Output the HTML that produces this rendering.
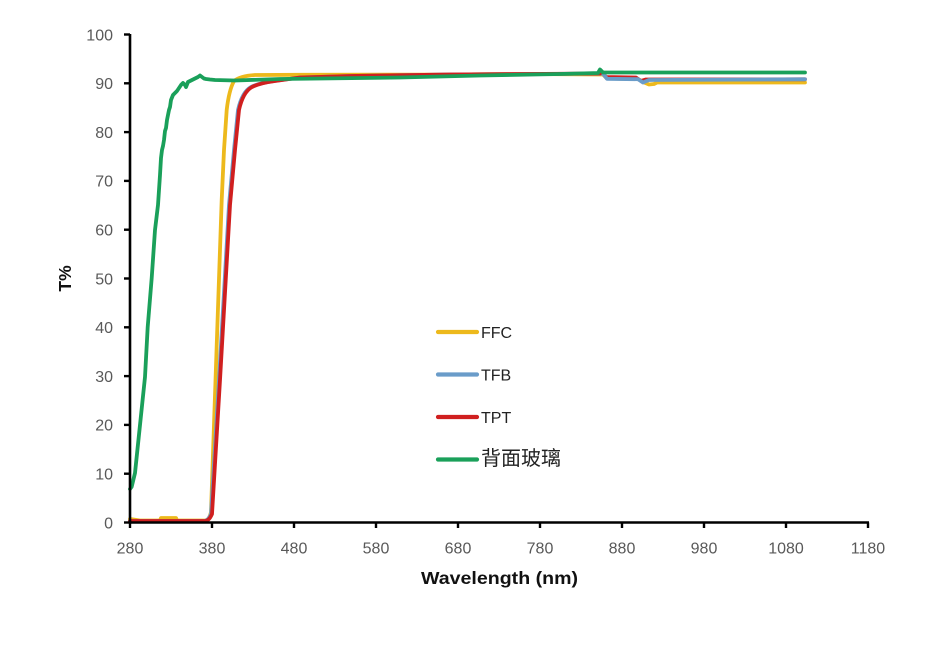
<!DOCTYPE html>
<html>
<head>
<meta charset="utf-8">
<style>
html,body{margin:0;padding:0;background:#fff;}
svg{display:block;}
.t{font-family:"Liberation Sans","Noto Sans CJK SC",sans-serif;fill:#595959;font-size:16px;}
.lg{font-family:"Liberation Sans","Noto Sans CJK SC",sans-serif;fill:#222;font-size:16px;}
.b{font-family:"Liberation Sans",sans-serif;fill:#111;font-weight:bold;}
</style>
</head>
<body>
<svg width="930" height="664" viewBox="0 0 930 664" xmlns="http://www.w3.org/2000/svg">
<rect width="930" height="664" fill="#fff"/>

<!-- Series -->
<g fill="none" stroke-linejoin="round" stroke-linecap="round" stroke-width="3.8">
  <!-- FFC yellow -->
  <path stroke="#EDB91C" d="M130,519 L140,520.5 L160,520.5 L161,518 L176,518 L177,520.5 L205,520.5 Q209,520.5 211,512 L221.7,200 L224,150 L226.7,110 Q229,90 234,81 Q240,76 255,75 L300,74.8 L440,74.6 L520,74 L603,74.5 L607,78.5 L638,79 L643,82 L649,84.5 L654,84 L657,82.5 L805,82.5"/>
  <!-- TPT red tail (under blue) -->
  <path stroke="#D01F1F" d="M598,73.5 L603,73.5 L606,77 L636,77.5 L641,81 L646,79.5 L805,79.3"/>
  <!-- TFB blue -->
  <path stroke="#6A9CC9" d="M130,521 L204,521 Q208,521 211,514 L219,380 L229,205 L234,150 L238,110 Q242,92 251,87 Q259,83 274,81 L300,77.5 L350,76 L450,74.5 L603,73.6 L607,78.8 L638,79.2 L643,82.5 L649,80 L805,79.3"/>
  <!-- TPT red main -->
  <path stroke="#D01F1F" d="M130,521 L205,521 Q209,521 212,514 L220,380 L230,205 L235,150 L239,110 Q243,92 252,87 Q260,83 275,81 L300,77.5 L350,76 L450,74.5 L600,73.5"/>
  <!-- Green -->
  <path stroke="#1AA05A" d="M130,489 L131.7,486.7 L135,473 L140,425 L145,377 L147.7,327 L151.7,278 L155,230 L158,205 L160,175 L161,158 L162,150 L163,146 L164,140 L165,131 L166,128 L167,120 L169,110 L170,107 L171,100 L173,95 L175,93 L177,91 L179,88 L181,85 L183,83 L185,85 L186,87 L188,82 L190,81 L192,80 L194,79 L196,78 L198,77 L200,75.5 L202,77 L204,78.5 L206,79 L210,79.5 L215,80 L235,80.5 L280,79 L400,77.5 L480,75.5 L560,74 L598,73 L600,69.5 L603,72.5 L805,72.5"/>
</g>

<!-- Axes -->
<g stroke="#000" stroke-width="2.6" fill="none">
  <line x1="130" y1="34" x2="130" y2="523.8"/>
  <line x1="128.7" y1="522.5" x2="869" y2="522.5"/>
</g>
<g stroke="#000" stroke-width="2.4">
  <line x1="124" y1="34.5" x2="130" y2="34.5"/>
  <line x1="124" y1="83.3" x2="130" y2="83.3"/>
  <line x1="124" y1="132.1" x2="130" y2="132.1"/>
  <line x1="124" y1="180.9" x2="130" y2="180.9"/>
  <line x1="124" y1="229.7" x2="130" y2="229.7"/>
  <line x1="124" y1="278.5" x2="130" y2="278.5"/>
  <line x1="124" y1="327.3" x2="130" y2="327.3"/>
  <line x1="124" y1="376.1" x2="130" y2="376.1"/>
  <line x1="124" y1="424.9" x2="130" y2="424.9"/>
  <line x1="124" y1="473.7" x2="130" y2="473.7"/>
  <line x1="124" y1="522.5" x2="130" y2="522.5"/>

  <line x1="130" y1="522.5" x2="130" y2="528"/>
  <line x1="212" y1="522.5" x2="212" y2="528"/>
  <line x1="294" y1="522.5" x2="294" y2="528"/>
  <line x1="376" y1="522.5" x2="376" y2="528"/>
  <line x1="458" y1="522.5" x2="458" y2="528"/>
  <line x1="540" y1="522.5" x2="540" y2="528"/>
  <line x1="622" y1="522.5" x2="622" y2="528"/>
  <line x1="704" y1="522.5" x2="704" y2="528"/>
  <line x1="786" y1="522.5" x2="786" y2="528"/>
  <line x1="868" y1="522.5" x2="868" y2="528"/>
</g>

<!-- Y labels -->
<g class="t" text-anchor="end">
  <text x="113" y="40.3">100</text>
  <text x="113" y="89.1">90</text>
  <text x="113" y="137.9">80</text>
  <text x="113" y="186.7">70</text>
  <text x="113" y="235.5">60</text>
  <text x="113" y="284.3">50</text>
  <text x="113" y="333.1">40</text>
  <text x="113" y="381.9">30</text>
  <text x="113" y="430.7">20</text>
  <text x="113" y="479.5">10</text>
  <text x="113" y="528.3">0</text>
</g>

<!-- X labels -->
<g class="t" text-anchor="middle">
  <text x="130" y="553.5">280</text>
  <text x="212" y="553.5">380</text>
  <text x="294" y="553.5">480</text>
  <text x="376" y="553.5">580</text>
  <text x="458" y="553.5">680</text>
  <text x="540" y="553.5">780</text>
  <text x="622" y="553.5">880</text>
  <text x="704" y="553.5">980</text>
  <text x="786" y="553.5">1080</text>
  <text x="868" y="553.5">1180</text>
</g>

<!-- Axis titles -->
<text class="b" x="499.5" y="584" text-anchor="middle" font-size="17.5" textLength="157" lengthAdjust="spacingAndGlyphs">Wavelength (nm)</text>
<text class="b" transform="translate(71,278.5) rotate(-90)" text-anchor="middle" font-size="17.5">T%</text>

<!-- Legend -->
<g stroke-width="4.2" stroke-linecap="round">
  <line x1="438" y1="332" x2="477" y2="332" stroke="#EDB91C"/>
  <line x1="438" y1="374.5" x2="477" y2="374.5" stroke="#6A9CC9"/>
  <line x1="438" y1="417" x2="477" y2="417" stroke="#D01F1F"/>
  <line x1="438" y1="459.5" x2="477" y2="459.5" stroke="#1AA05A"/>
</g>
<g class="lg">
  <text x="481" y="338">FFC</text>
  <text x="481" y="380.5">TFB</text>
  <text x="481" y="423">TPT</text>
  <text x="481" y="465" font-size="20">背面玻璃</text>
</g>
</svg>
</body>
</html>
